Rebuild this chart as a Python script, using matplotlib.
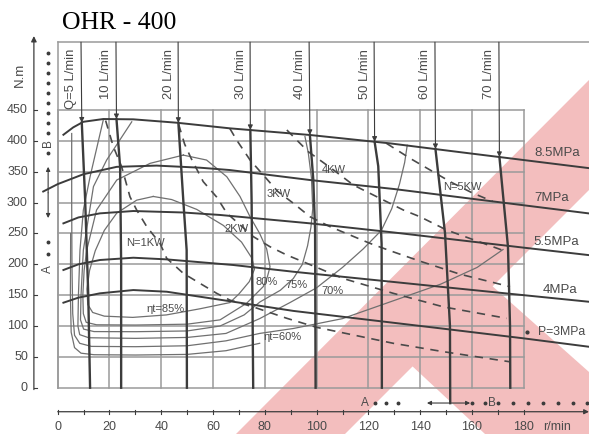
import numpy as np
import matplotlib.pyplot as plt
from matplotlib.patches import Polygon

plt.rcParams['font.family'] = ['Liberation Sans', 'DejaVu Sans']

INK = '#3c3c3c'
GRID = '#9a9a9a'
THIN = '#707070'
TXT = '#4a4a4a'
PINK = '#f3bebe'

# constant pressure curves: speed (r/min) / torque (N.m)
p85_n = [2.2, 6, 9.9, 17.6, 29.2, 46, 66.5, 97.5, 128.4, 155, 180, 205]
p85_t = [410, 422, 431, 435.5, 435, 429.5, 420.4, 409.6, 396, 382, 369, 356]
p70_n = [-5.6, 0, 9.9, 22.8, 38.2, 55, 66.5, 97.5, 130, 180, 205]
p70_t = [318, 330, 346, 358, 360, 356.6, 352.8, 336.6, 322, 295.7, 282.6]
p55_n = [2.2, 8, 16.3, 29.2, 48.5, 62.7, 97.5, 130, 180, 205]
p55_t = [266.4, 276, 282.6, 286.4, 284, 280, 266.4, 251.5, 227, 215]
p40_n = [2.2, 8, 16.3, 29.2, 42.1, 67.8, 91, 147.7, 180, 205]
p40_t = [190.8, 200, 207, 210.7, 208, 198.9, 188, 163.7, 150, 139.4]
p30_n = [2.2, 8, 16.3, 29.2, 42.1, 67.8, 91, 147.7, 180, 205]
p30_t = [137.8, 146, 153, 158.3, 155.6, 139.4, 124.5, 96.3, 80, 66.5]
pressure_labels = ['8.5MPa', '7MPa', '5.5MPa', '4MPa', 'P=3MPa']

# flow lines: label, speed at the top of the chart, thick part below the arrow
flow_labels = ['Q=5 L/min', '10 L/min', '20 L/min', '30 L/min',
               '40 L/min', '50 L/min', '60 L/min', '70 L/min']
flow_top = [9.0, 22.5, 46.5, 74.3, 97.1, 122.2, 145.7, 170.4]
flow_n = [[9.3, 10.6, 11.8, 12.5], [22.7, 24.1, 24.5, 24.5],
          [46.6, 48.5, 49.8, 49.9], [74.4, 74.9, 75.5],
          [97.4, 98.7, 99.4, 99.6], [122.4, 123.8, 125.1, 125.2],
          [145.9, 149.6, 151.5, 151.6], [170.6, 173.9, 174.7, 174.8]]
flow_t = [[None, 304, 150, 0], [None, 358, 200, 0],
          [None, 304, 223, 0], [None, 300, 0],
          [None, 338, 257, 0], [None, 359, 233, 0],
          [None, 250, 100, -25], [None, 228.5, 100, 0]]

# constant output power lines
kw1_n = [18.5, 21.5, 24.7, 27.9, 30.5, 34.4, 39.5, 42.1, 48.5, 55, 61.4, 66.5,
         75.5, 88.5, 100, 129.6, 149, 174.7]
kw1_t = [433, 390.6, 358, 309.6, 288, 261, 234, 209.7, 185.4, 169, 153, 142,
         131, 112.5, 97.9, 72, 58.4, 42]
kw2_n = [46.7, 49, 51.5, 56.2, 61.4, 65.3, 75.5, 82, 88.5, 94.9, 110.3, 129.6,
         149, 173.4]
kw2_t = [427, 395, 372, 334, 309, 283, 245, 228.5, 215, 204, 177, 153, 131,
         112.5]
kw3_n = [66.5, 69.1, 74.3, 79.4, 85, 91, 97.5, 105.2, 120.6, 128.4, 140,
         155.4, 174.7]
kw3_t = [420, 401.5, 369, 344.7, 318, 299, 277, 261, 234, 222, 205, 184,
         163.7]
kw4_n = [88.5, 92.3, 96.8, 106.5, 114.2, 123.2, 133.5, 140, 150.2, 173.4]
kw4_t = [417.7, 401.5, 382.5, 353, 328.5, 309.6, 288, 277, 255.6, 220.4]
kw5_n = [127, 136, 145, 152, 160, 168]
kw5_t = [396, 372, 350, 333, 316, 302]
power_labels = ['N=1KW', '2KW', '3KW', '4KW', 'N=5KW']
power_label_pos = [(33.7, 234.5), (69, 258), (85.5, 314), (106.7, 352.8),
                   (156.4, 325)]

# total efficiency contours
e85_n = [36.9, 44, 53.7, 64, 71, 75, 76, 74, 70, 66.5, 55, 42, 29, 18, 13.5,
         11.6, 11.3, 12.3, 14.5, 18, 22.8, 30.5, 36.9]
e85_t = [310, 305, 289, 263, 236, 210, 192, 172, 152, 138, 128, 118, 114, 116,
         122, 135, 160, 190, 222, 255, 283, 304, 310]
e80_n = [48.5, 57.5, 65.3, 70.4, 74.3, 78, 80.7, 82, 81, 79.4, 73, 62.7, 50,
         30, 15, 11, 9.9, 9.7, 10.2, 11.2, 15, 22.8, 35.7, 48.5]
e80_t = [377, 369, 342, 310, 277, 250, 225, 196, 180, 164, 137, 110, 103,
         101.6, 102, 106, 120, 150, 190, 223, 288, 336.6, 363.7, 377]
e75_n = [28.6, 18.9, 13.8, 9.9, 9, 8.8, 10, 14, 30, 50, 62.7, 72, 78.1, 86,
         91, 94.5, 96.5, 97.8, 98.5, 98, 96.8, 95.5]
e75_t = [431, 369, 326, 223, 150, 110, 95, 91, 90.8, 92, 100, 118, 139, 158,
         177, 200, 230, 260, 290, 340, 380, 407]
e70_n = [17.6, 12.5, 9.9, 8.6, 8.0, 7.8, 8.5, 12, 30, 50, 65, 78, 89.7, 100,
         110, 118, 125, 129, 132, 134, 135]
e70_t = [434, 342, 288, 223, 150, 100, 86, 81, 80, 81.5, 88, 112, 138, 162,
         195, 225, 255, 290, 330, 365, 393]
e65_n = [5.4, 5.4, 5.5, 5.8, 6.5, 8.5, 13, 30, 50, 65, 78, 91, 110, 129, 148,
         162, 172]
e65_t = [412, 300, 200, 120, 85, 72, 67, 66.5, 68, 76, 88, 96, 112, 140, 168,
         195, 224]
e60_n = [5.0, 4.9, 5.2, 6.5, 9, 14, 30, 50, 65, 78]
e60_t = [250, 150, 90, 65, 56, 53.5, 53, 54, 60, 72]
eff_labels = ['ηt=85%', '80%', '75%', '70%', 'ηt=60%']
eff_label_pos = [(41.8, 127), (80.5, 171), (92.2, 166.5), (106.1, 156.7),
                 (86.8, 82)]

y_ticks = list(range(0, 451, 50))
x_ticks = list(range(0, 181, 20))

fig = plt.figure(figsize=(5.89, 4.34), dpi=100)
ax = fig.add_axes([0, 0, 1, 1])
ax.set_xlim(-22.29, 205.2)
ax.set_ylim(-75.0, 628.4)
ax.axis('off')


def fig_pts(pts):
    return [(x / 589, 1 - y / 434) for x, y in pts]


# logo in the background (pixel outline)
for poly in ([(589, 80), (589, 190), (345, 434), (236, 434)],
             [(490, 284), (589, 372), (589, 434), (485, 434), (410, 364)]):
    ax.add_patch(Polygon(fig_pts(poly), closed=True, fc=PINK, ec='none',
                         transform=fig.transFigure, zorder=0))

# grid box
for v in x_ticks:
    ax.plot([v, v], [0, 450], color=GRID, lw=1.1, zorder=1)
for h in y_ticks:
    ax.plot([0, 180], [h, h], color=GRID, lw=1.1, zorder=1)
ax.plot([0, 0], [0, 560], color=GRID, lw=1.1, zorder=1)
ax.plot([0, 205.2], [560, 560], color=GRID, lw=1.1, zorder=1)

# efficiency contours
for n, t in [(e85_n, e85_t), (e80_n, e80_t), (e75_n, e75_t), (e70_n, e70_t),
             (e65_n, e65_t), (e60_n, e60_t)]:
    ax.plot(n, t, color=THIN, lw=0.9, zorder=2)
for s, (x, y) in zip(eff_labels, eff_label_pos):
    ax.text(x, y, s, fontsize=8, color=TXT, ha='center', va='center', zorder=5)

# power lines
for n, t in [(kw1_n, kw1_t), (kw2_n, kw2_t), (kw3_n, kw3_t), (kw4_n, kw4_t),
             (kw5_n, kw5_t)]:
    ax.plot(n, t, color='#4a4a4a', lw=1.2, ls=(0, (5, 4)), zorder=3)
for s, (x, y) in zip(power_labels, power_label_pos):
    ax.text(x, y, s, fontsize=8, color=TXT, ha='center', va='center', zorder=5)

# pressure curves
for n, t in [(p85_n, p85_t), (p70_n, p70_t), (p55_n, p55_t), (p40_n, p40_t),
             (p30_n, p30_t)]:
    ax.plot(n, t, color=INK, lw=1.4, zorder=4)
for s, (x, y) in zip(pressure_labels[:4],
                     [(193, 380), (190.9, 307), (192.7, 236), (194, 158)]):
    ax.text(x, y, s, fontsize=9.5, color=TXT, ha='center', va='center')
ax.plot([181.1], [90.8], 'o', ms=2, color=INK)
ax.text(185.6, 90.8, pressure_labels[4], fontsize=8.8, color=TXT,
        ha='left', va='center')

# flow lines with arrows at the maximum pressure curve
for lab, top, n, t in zip(flow_labels, flow_top, flow_n, flow_t):
    tip = np.interp(n[0], p85_n, p85_t)
    ax.annotate('', xy=(n[0], tip), xytext=(top, 560),
                arrowprops=dict(arrowstyle='-|>', color=INK, lw=0.8,
                                mutation_scale=7, shrinkA=0, shrinkB=0),
                zorder=4)
    ax.plot(n, [tip] + t[1:], color=INK, lw=1.7, zorder=4)
    ax.text(top - 3.7, 548.9, lab, rotation=90, fontsize=9.4, color=TXT,
            ha='center', va='top')

# left axis
ax.annotate('', xy=(-9.2, 570), xytext=(-9.2, -3),
            arrowprops=dict(arrowstyle='-|>', color=INK, lw=0.9,
                            mutation_scale=8, shrinkA=0, shrinkB=0))
for t in y_ticks:
    ax.plot([-9.2, -7.9], [t, t], color=INK, lw=0.8)
    ax.text(-11.5, t, str(t), fontsize=9, color=TXT, ha='right', va='center')
ax.text(-14.6, 507, 'N.m', rotation=90, fontsize=9.5, color=TXT,
        ha='center', va='center')

# rotation direction marks on the left
dot_y = [542.5, 526.3, 510.0, 493.8, 477.6, 461.4, 445.2, 429.0, 412.8,
         380.4, 236.0, 216.4]
ax.plot([-3.7] * len(dot_y), dot_y, 'o', ms=1.8, color=INK)
ax.text(-3.7, 396.6, 'B', rotation=90, fontsize=8.5, color=TXT,
        ha='center', va='center')
ax.text(-3.7, 192, 'A', rotation=90, fontsize=8.5, color=TXT,
        ha='center', va='center')
ax.annotate('', xy=(-3.7, 358), xytext=(-3.7, 316),
            arrowprops=dict(arrowstyle='-|>', color=INK, lw=0.8,
                            mutation_scale=6, shrinkA=0, shrinkB=0))
ax.annotate('', xy=(-3.7, 275), xytext=(-3.7, 316),
            arrowprops=dict(arrowstyle='-|>', color=INK, lw=0.8,
                            mutation_scale=6, shrinkA=0, shrinkB=0))

# bottom axis
ax.annotate('', xy=(205.2, -38.9), xytext=(0, -38.9),
            arrowprops=dict(arrowstyle='-|>', color=INK, lw=0.9,
                            mutation_scale=7, shrinkA=0, shrinkB=0))
for v in range(0, 181, 10):
    ax.plot([v, v], [-35.5, -42.3], color=INK, lw=0.8)
for v in x_ticks:
    ax.text(v, -63.6, str(v), fontsize=9, color=TXT, ha='center', va='center')
ax.text(192.9, -63.6, 'r/min', fontsize=9, color=TXT, ha='center', va='center')

# rotation direction marks at the bottom
ax.text(118.7, -24.8, 'A', fontsize=8.5, color=TXT, ha='center', va='center')
bot_dots = [122.6, 126.8, 131.4, 160.0, 165.0, 170.0, 175.8, 181.6, 187.4,
            193.2, 199.0, 204.4]
ax.plot(bot_dots, [-24.8] * len(bot_dots), 'o', ms=1.8, color=INK)
ax.text(167.6, -24.8, 'B', fontsize=8.5, color=TXT, ha='center', va='center')
ax.annotate('', xy=(142.6, -24.8), xytext=(151.6, -24.8),
            arrowprops=dict(arrowstyle='-|>', color=INK, lw=0.8,
                            mutation_scale=6, shrinkA=0, shrinkB=0))
ax.annotate('', xy=(159.3, -24.8), xytext=(151.6, -24.8),
            arrowprops=dict(arrowstyle='-|>', color=INK, lw=0.8,
                            mutation_scale=6, shrinkA=0, shrinkB=0))

ax.text(1.7, 581.4, 'OHR - 400', fontsize=18.5, family='Liberation Serif',
        color='black', ha='left', va='baseline')

fig.savefig('out.png', dpi=100)
